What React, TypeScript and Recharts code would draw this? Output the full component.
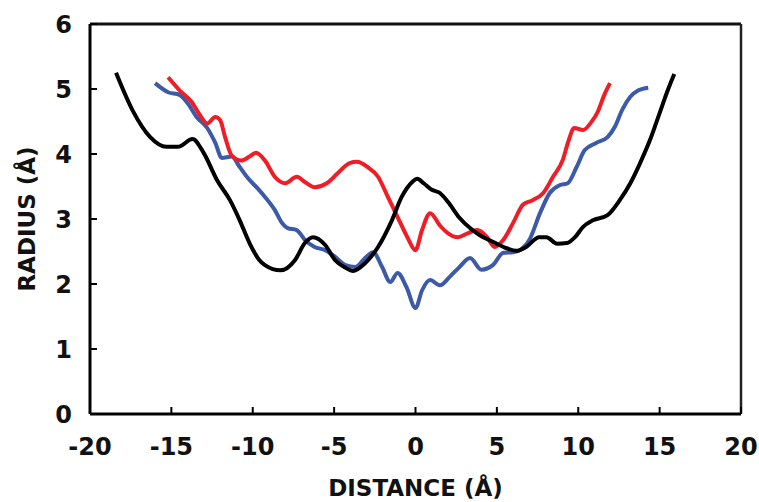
import React from 'react';
import { LineChart, Line, XAxis, YAxis, ReferenceLine, Label } from 'recharts';

// [distance (Å), radius (Å)]
const blackProfile: [number, number][] = [
  [-18.4, 5.25], [-17.4, 4.68], [-16.3, 4.26], [-15.3, 4.11], [-14.6, 4.11], [-13.7, 4.23],
  [-13.0, 4.01], [-12.2, 3.6], [-11.4, 3.29], [-10.8, 2.98], [-10.2, 2.63], [-9.6, 2.37],
  [-9.25, 2.29], [-8.3, 2.21], [-7.4, 2.37], [-6.8, 2.63], [-6.3, 2.72], [-5.55, 2.6],
  [-4.95, 2.37], [-4.3, 2.25], [-3.85, 2.2], [-3.1, 2.32], [-2.3, 2.57], [-1.45, 2.98],
  [-0.85, 3.34], [-0.2, 3.57], [0.1, 3.62], [0.5, 3.55], [1.0, 3.45], [1.5, 3.4],
  [2.0, 3.26], [2.7, 3.02], [3.35, 2.86], [3.95, 2.75], [4.75, 2.65], [5.6, 2.55],
  [6.2, 2.51], [6.8, 2.57], [7.6, 2.72], [8.05, 2.72], [8.7, 2.62], [9.3, 2.63],
  [9.8, 2.72], [10.3, 2.88], [10.9, 2.98], [11.8, 3.06], [12.55, 3.29], [13.2, 3.55],
  [13.8, 3.86], [14.4, 4.21], [15.0, 4.63], [15.5, 4.98], [15.9, 5.23],
];

const redProfile: [number, number][] = [
  [-15.2, 5.18], [-14.5, 4.98], [-13.75, 4.8], [-13.25, 4.6], [-12.8, 4.47], [-12.3, 4.57],
  [-12.0, 4.52], [-11.7, 4.26], [-11.3, 3.98], [-10.7, 3.9], [-10.2, 3.96], [-9.8, 4.02],
  [-9.25, 3.9], [-8.65, 3.65], [-8.0, 3.55], [-7.3, 3.65], [-6.8, 3.57], [-6.2, 3.49],
  [-5.45, 3.55], [-4.8, 3.7], [-4.05, 3.86], [-3.6, 3.88], [-2.95, 3.8], [-2.3, 3.65],
  [-1.7, 3.34], [-1.1, 3.03], [-0.5, 2.72], [0, 2.52], [0.4, 2.83], [0.9, 3.09],
  [1.5, 2.9], [2.0, 2.78], [2.6, 2.72], [3.2, 2.78], [3.8, 2.83], [4.4, 2.72],
  [4.85, 2.57], [5.4, 2.68], [6.0, 2.94], [6.6, 3.22], [7.2, 3.29], [7.85, 3.4],
  [8.45, 3.65], [9.05, 3.91], [9.4, 4.2], [9.75, 4.4], [10.3, 4.37], [10.8, 4.49],
  [11.2, 4.65], [11.6, 4.91], [11.95, 5.09],
];

const blueProfile: [number, number][] = [
  [-16.0, 5.09], [-15.2, 4.95], [-14.5, 4.91], [-14.0, 4.78], [-13.45, 4.57], [-12.8, 4.4],
  [-12.3, 4.17], [-11.9, 3.94], [-11.3, 3.96], [-10.8, 3.8], [-10.3, 3.63], [-9.7, 3.47],
  [-9.25, 3.34], [-8.65, 3.14], [-8.2, 2.94], [-7.85, 2.86], [-7.3, 2.83], [-6.8, 2.68],
  [-6.2, 2.57], [-5.55, 2.52], [-4.95, 2.42], [-4.3, 2.29], [-3.7, 2.26], [-3.1, 2.4],
  [-2.6, 2.49], [-2.05, 2.26], [-1.55, 2.03], [-1.1, 2.17], [-0.55, 1.95], [0, 1.63],
  [0.4, 1.9], [0.9, 2.06], [1.5, 1.98], [2.1, 2.11], [2.7, 2.26], [3.35, 2.4],
  [4.05, 2.22], [4.75, 2.29], [5.4, 2.48], [6.0, 2.49], [6.4, 2.52], [7.0, 2.68],
  [7.65, 3.09], [8.25, 3.4], [8.85, 3.52], [9.35, 3.55], [9.9, 3.8], [10.4, 4.06],
  [11.1, 4.17], [11.8, 4.26], [12.25, 4.42], [12.7, 4.68], [13.2, 4.88], [13.7, 4.98],
  [14.3, 5.02],
];

const xTicks = [-20, -15, -10, -5, 0, 5, 10, 15, 20];
const yTicks = [0, 1, 2, 3, 4, 5, 6];
const xTitle = 'DISTANCE (Å)';
const yTitle = 'RADIUS (Å)';

const toRows = (pts: [number, number][]) => pts.map(([x, y]) => ({ x, y }));

const FONT = '"DejaVu Sans", sans-serif';
const tickStyle = { fontFamily: FONT, fontWeight: 700, fontSize: 24, fill: '#111' };

export default function App() {
  return (
    <div style={{ position: 'absolute', left: 0, top: 0, background: '#fff' }}>
      <LineChart width={759} height={502} margin={{ top: 24, right: 18, bottom: 0, left: 0 }}>
        <XAxis
          type="number"
          dataKey="x"
          domain={[-20, 20]}
          ticks={xTicks}
          allowDataOverflow
          height={88}
          tickSize={-7}
          tickMargin={31}
          axisLine={{ stroke: '#000', strokeWidth: 3 }}
          tickLine={{ stroke: '#000', strokeWidth: 2 }}
          tick={tickStyle}
          interval={0}
        >
          <Label
            value={xTitle}
            position="insideBottom"
            offset={6}
            style={{ fontFamily: FONT, fontWeight: 700, fontSize: 23, fill: '#111' }}
          />
        </XAxis>
        <YAxis
          type="number"
          domain={[0, 6]}
          ticks={yTicks}
          width={90}
          tickSize={-7}
          tickMargin={25}
          axisLine={{ stroke: '#000', strokeWidth: 3 }}
          tickLine={{ stroke: '#000', strokeWidth: 2 }}
          tick={tickStyle}
          interval={0}
        >
          <Label
            value={yTitle}
            angle={-90}
            position="insideLeft"
            offset={27}
            style={{ fontFamily: FONT, fontWeight: 700, fontSize: 23, fill: '#111', textAnchor: 'middle' }}
          />
        </YAxis>
        <ReferenceLine y={6} stroke="#111" strokeWidth={3} />
        <ReferenceLine x={20} stroke="#222" strokeWidth={2.5} />
        <Line data={toRows(blueProfile)} dataKey="y" type="monotone" stroke="#3c5aa8" strokeWidth={4} dot={false} isAnimationActive={false} />
        <Line data={toRows(redProfile)} dataKey="y" type="monotone" stroke="#ee1d26" strokeWidth={4} dot={false} isAnimationActive={false} />
        <Line data={toRows(blackProfile)} dataKey="y" type="monotone" stroke="#000" strokeWidth={4} dot={false} isAnimationActive={false} />
      </LineChart>
    </div>
  );
}
